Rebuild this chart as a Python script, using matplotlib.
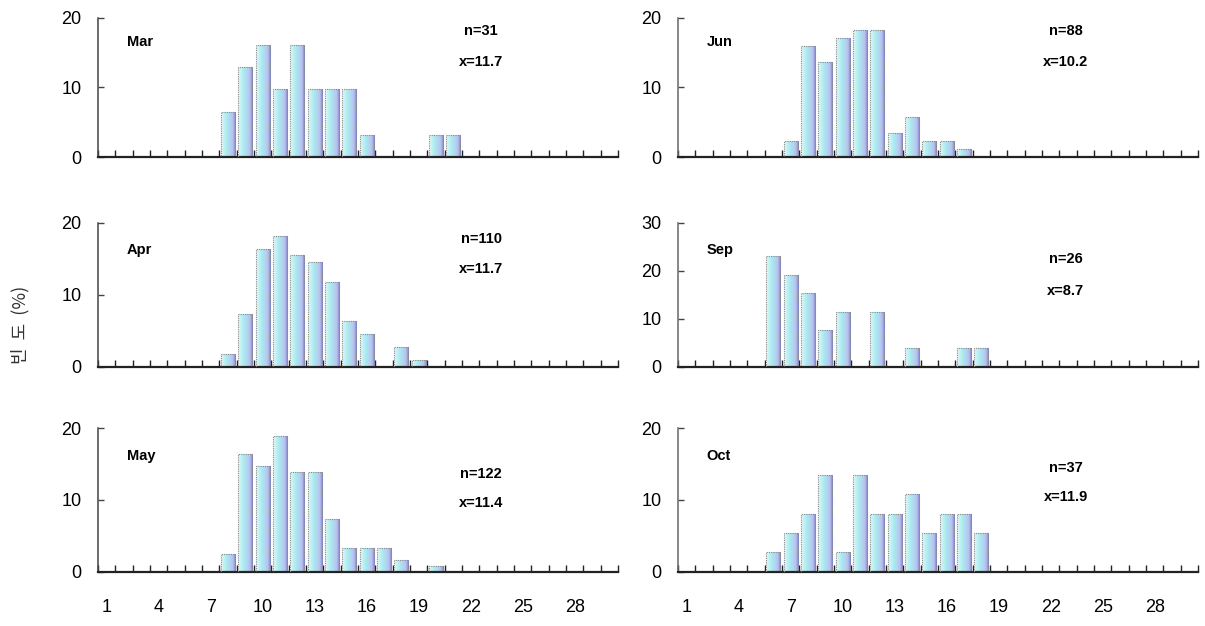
import numpy as np
import matplotlib
matplotlib.use("Agg")
import matplotlib.pyplot as plt
from matplotlib.colors import LinearSegmentedColormap

# size classes on the x axis and the labelled ones
size_bins = np.arange(1, 31)
tick_labels = [1, 4, 7, 10, 13, 16, 19, 22, 25, 28]

# frequency (%) per size class
mar_bins = [8, 9, 10, 11, 12, 13, 14, 15, 16, 20, 21]
mar_pct = [6.5, 12.9, 16.1, 9.7, 16.1, 9.7, 9.7, 9.7, 3.2, 3.2, 3.2]

apr_bins = [8, 9, 10, 11, 12, 13, 14, 15, 16, 18, 19]
apr_pct = [1.8, 7.3, 16.4, 18.2, 15.5, 14.5, 11.8, 6.4, 4.5, 2.7, 0.9]

may_bins = [8, 9, 10, 11, 12, 13, 14, 15, 16, 17, 18, 20]
may_pct = [2.5, 16.4, 14.8, 18.9, 13.9, 13.9, 7.4, 3.3, 3.3, 3.3, 1.6, 0.8]

jun_bins = [7, 8, 9, 10, 11, 12, 13, 14, 15, 16, 17]
jun_pct = [2.3, 15.9, 13.6, 17.0, 18.2, 18.2, 3.4, 5.7, 2.3, 2.3, 1.1]

sep_bins = [6, 7, 8, 9, 10, 12, 14, 17, 18]
sep_pct = [23.1, 19.2, 15.4, 7.7, 11.5, 11.5, 3.8, 3.8, 3.8]

oct_bins = [6, 7, 8, 9, 10, 11, 12, 13, 14, 15, 16, 17, 18]
oct_pct = [2.7, 5.4, 8.1, 13.5, 2.7, 13.5, 8.1, 8.1, 10.8, 5.4, 8.1, 8.1, 5.4]

month_names = ["Mar", "Apr", "May", "Jun", "Sep", "Oct"]
sample_sizes = [31, 110, 122, 88, 26, 37]
mean_sizes = [11.7, 11.7, 11.4, 10.2, 8.7, 11.9]
y_label = "빈  도  (%)"

W, H = 1205, 626
plt.rcParams["font.family"] = ["Liberation Sans", "DejaVu Sans"]

bar_cmap = LinearSegmentedColormap.from_list(
    "bar", ["#f2f4f6", "#bff2f4", "#a9eaef", "#b4d6f0", "#b9c0ee", "#7c84cc"])
gradient = np.linspace(0, 1, 64).reshape(1, -1)


def px_axes(fig, left, top, bottom):
    return fig.add_axes([left / W, 1 - bottom / H, 520 / W, (bottom - top) / H])


def draw_panel(ax, bins, pct, ymax, name, n, mean, name_y, n_y, x_y, n_x,
               show_xlabels, dotted_spine):
    bars = ax.bar(bins, pct, width=0.82, facecolor="none", edgecolor="#8a8a8a",
                  linewidth=0.8, linestyle=(0, (1, 1)), zorder=3)
    for patch in bars.patches:
        x0, y0 = patch.get_x(), patch.get_y()
        im = ax.imshow(gradient, cmap=bar_cmap, aspect="auto", zorder=2,
                       extent=(x0, x0 + patch.get_width(), y0, y0 + patch.get_height()))
        im.set_clip_path(patch)
    ax.set_xlim(0.5, 30.5)
    ax.set_ylim(0, ymax)
    ax.set_yticks(np.arange(0, ymax + 1, 10))

    ax.set_xticks(tick_labels)
    ax.set_xticks(np.arange(0.5, 31, 1), minor=True)
    ax.tick_params(axis="x", which="major", length=0, pad=20, labelsize=13)
    ax.tick_params(axis="x", which="minor", direction="in", length=5, width=1, color="#222222")
    ax.tick_params(axis="y", direction="in", length=4, width=1, pad=12, labelsize=13,
                   color="#444444")
    if not show_xlabels:
        ax.set_xticklabels([])

    for side in ("top", "right"):
        ax.spines[side].set_visible(False)
    ax.spines["bottom"].set_color("#222222")
    ax.spines["bottom"].set_linewidth(1.6)
    if dotted_spine:
        ax.spines["left"].set_linestyle((0, (1, 1)))
        ax.spines["left"].set_color("#666666")
    else:
        ax.spines["left"].set_color("#444444")
    ax.spines["left"].set_linewidth(1.1)
    ax.patch.set_alpha(0)

    ax.text(0.055, name_y, name, transform=ax.transAxes, fontsize=10.5,
            fontweight="bold", ha="left", va="center")
    ax.text(n_x, n_y, f"n={n}", transform=ax.transAxes, fontsize=10.5,
            fontweight="bold", ha="center", va="center")
    ax.text(n_x, x_y, f"x={mean}", transform=ax.transAxes, fontsize=10.5,
            fontweight="bold", ha="center", va="center")


fig = plt.figure(figsize=(W / 100, H / 100), dpi=100)

rows = [(17.5, 157), (222.7, 366.7), (428.3, 571.7)]
left_x, right_x = 98, 678

ax_mar = px_axes(fig, left_x, *rows[0])
draw_panel(ax_mar, mar_bins, mar_pct, 20, month_names[0], sample_sizes[0], mean_sizes[0],
           0.826, 0.905, 0.683, 0.737, False, False)
ax_apr = px_axes(fig, left_x, *rows[1])
draw_panel(ax_apr, apr_bins, apr_pct, 20, month_names[1], sample_sizes[1], mean_sizes[1],
           0.81, 0.887, 0.678, 0.737, False, False)
ax_may = px_axes(fig, left_x, *rows[2])
draw_panel(ax_may, may_bins, may_pct, 20, month_names[2], sample_sizes[2], mean_sizes[2],
           0.807, 0.681, 0.479, 0.737, True, False)
ax_jun = px_axes(fig, right_x, *rows[0])
draw_panel(ax_jun, jun_bins, jun_pct, 20, month_names[3], sample_sizes[3], mean_sizes[3],
           0.826, 0.905, 0.68, 0.746, False, True)
ax_sep = px_axes(fig, right_x, *rows[1])
draw_panel(ax_sep, sep_bins, sep_pct, 30, month_names[4], sample_sizes[4], mean_sizes[4],
           0.81, 0.748, 0.526, 0.746, False, True)
ax_oct = px_axes(fig, right_x, *rows[2])
draw_panel(ax_oct, oct_bins, oct_pct, 20, month_names[5], sample_sizes[5], mean_sizes[5],
           0.81, 0.72, 0.52, 0.746, True, True)

fig.text(20 / W, 1 - 325 / H, y_label, rotation=90, ha="center", va="center",
         fontsize=13, family=["Noto Sans CJK KR", "DejaVu Sans"], color="#333333")

fig.savefig("out.png", dpi=100)
